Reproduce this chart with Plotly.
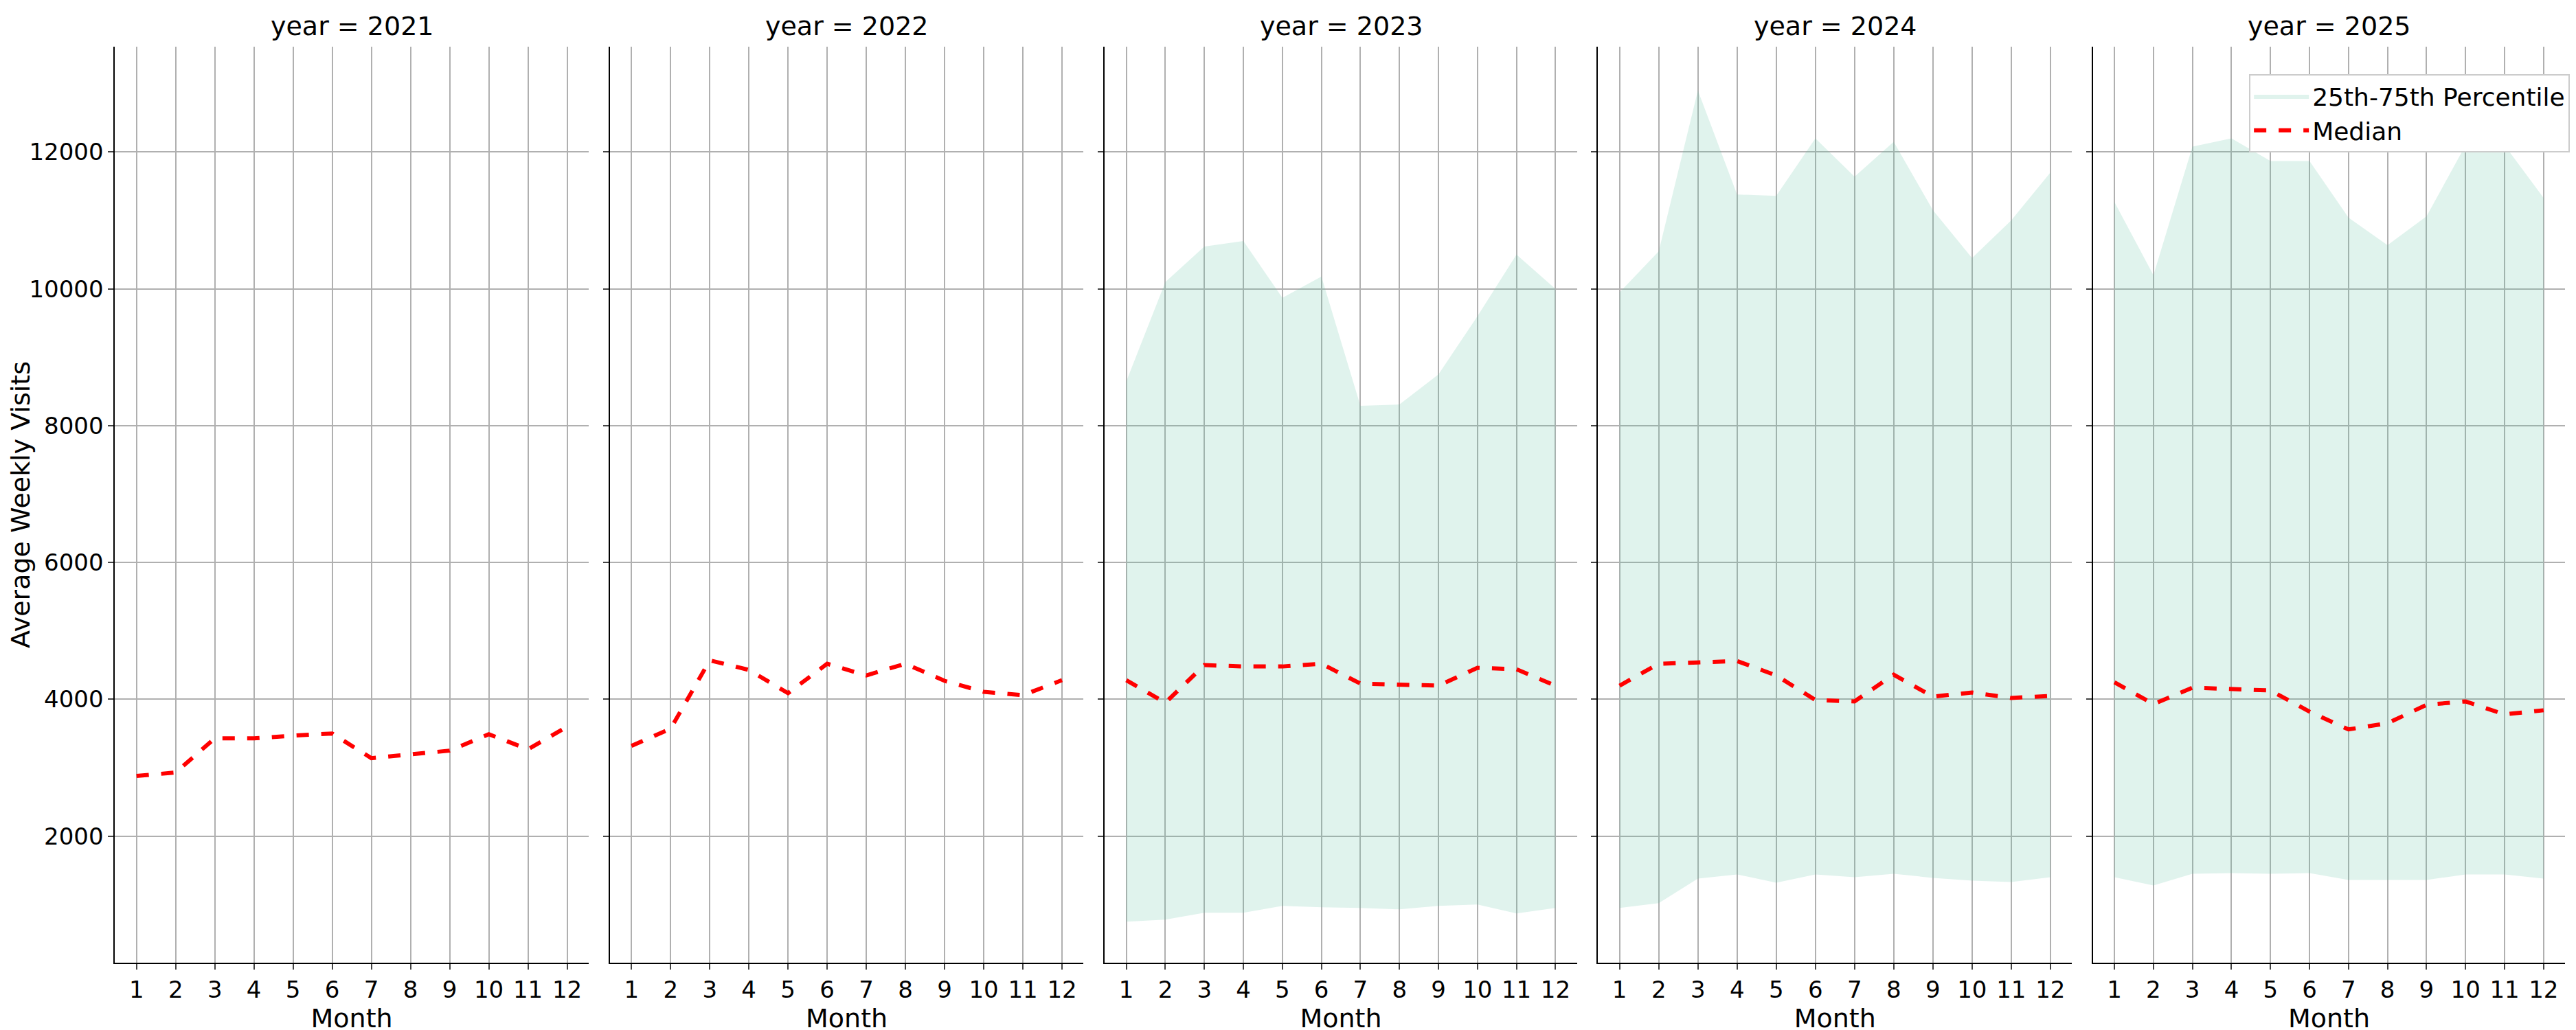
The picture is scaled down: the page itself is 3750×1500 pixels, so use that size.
import plotly.graph_objects as go

years = [2021, 2022, 2023, 2024, 2025]
months = list(range(1, 13))
median = {
    2021: [2880, 2930, 3430, 3430, 3470, 3500, 3140, 3190, 3250, 3490, 3270, 3600],
    2022: [3320, 3570, 4570, 4430, 4090, 4520, 4350, 4520, 4270, 4110, 4060, 4280],
    2023: [4280, 3950, 4500, 4480, 4480, 4520, 4230, 4220, 4200, 4460, 4440, 4200],
    2024: [4200, 4520, 4540, 4560, 4350, 3990, 3970, 4360, 4040, 4100, 4020, 4050],
    2025: [4250, 3930, 4170, 4150, 4130, 3820, 3560, 3650, 3920, 3970, 3780, 3840],
}
p75 = {
    2023: [8650, 10100, 10620, 10700, 9870, 10180, 8290, 8310, 8750, 9600, 10500, 10000],
    2024: [9950, 10550, 12900, 11380, 11360, 12200, 11640, 12150, 11150, 10450, 11000, 11700],
    2025: [11270, 10200, 12080, 12200, 11870, 11870, 11040, 10640, 11060, 12100, 12100, 11330],
}
p25 = {
    2023: [750, 780, 880, 880, 980, 960, 950, 930, 980, 1000, 870, 950],
    2024: [950, 1020, 1380, 1440, 1320, 1440, 1400, 1450, 1390, 1350, 1330, 1400],
    2025: [1400, 1280, 1450, 1460, 1450, 1460, 1360, 1360, 1360, 1440, 1440, 1380],
}
yticks = [2000, 4000, 6000, 8000, 10000, 12000]

lefts = [0.0402, 0.2328, 0.4254, 0.6173, 0.8099]
rights = [0.2245, 0.4171, 0.6091, 0.8017, 0.9936]
fig = go.Figure()
font = dict(family="DejaVu Sans", size=34, color="black")
tfont = dict(family="DejaVu Sans", size=38, color="black")
shown_band = False
for i, y in enumerate(years):
    xa = "x" if i == 0 else f"x{i+1}"
    ya = "y" if i == 0 else f"y{i+1}"
    if y in p75:
        fig.add_trace(go.Scatter(
            x=months, y=p25[y], mode="lines", line=dict(width=0), showlegend=False,
            xaxis=xa, yaxis=ya, hoverinfo="skip"))
        fig.add_trace(go.Scatter(
            x=months, y=p75[y], fill="tonexty", mode="lines",
            fillcolor="rgba(102,194,165,0.2)", line=dict(width=0),
            name="25th-75th Percentile", showlegend=not shown_band, legendrank=2,
            xaxis=xa, yaxis=ya, hoverinfo="skip"))
        shown_band = True
    fig.add_trace(go.Scatter(
        x=months, y=median[y], mode="lines", line=dict(color="red", width=6, dash="dash"),
        name="Median", showlegend=(i == 0), legendrank=1, xaxis=xa, yaxis=ya))
    ax = dict(domain=[lefts[i], rights[i]], range=[0.45, 12.55], tickvals=months,
              showgrid=True, gridcolor="#b0b0b0", gridwidth=2, showline=True,
              linecolor="black", linewidth=2, ticks="outside", ticklen=8, tickwidth=2,
              tickfont=font, zeroline=False,
              title=dict(text="Month", font=tfont, standoff=6),
              anchor=ya)
    yx = dict(range=[150, 13540], tickvals=yticks, ticktext=[str(t) for t in yticks],
              showgrid=True, gridcolor="#b0b0b0", gridwidth=2, showline=True,
              linecolor="black", linewidth=2, ticks="outside", ticklen=8, tickwidth=2,
              tickfont=font, zeroline=False, anchor=xa, showticklabels=(i == 0))
    if i == 0:
        yx["title"] = dict(text="Average Weekly Visits", font=tfont, standoff=8)
    else:
        yx["matches"] = "y"
    fig.update_layout(**{("xaxis" if i == 0 else f"xaxis{i+1}"): ax,
                         ("yaxis" if i == 0 else f"yaxis{i+1}"): yx})
    fig.add_annotation(text=f"year = {y}", x=(lefts[i] + rights[i]) / 2, y=1.0,
                       xref="paper", yref="paper", xanchor="center", yanchor="bottom",
                       showarrow=False, yshift=6, font=tfont)

fig.update_layout(
    width=3750, height=1500, plot_bgcolor="white", paper_bgcolor="white",
    font=dict(family="DejaVu Sans", color="black"),
    margin=dict(l=0, r=0, t=60, b=106),
    legend=dict(x=0.9955, y=0.97, xanchor="right", yanchor="top", bgcolor="white",
                bordercolor="#cccccc", borderwidth=2,
                font=dict(family="DejaVu Sans", size=36, color="black"), itemwidth=80),
)
fig.write_html("out.html")
